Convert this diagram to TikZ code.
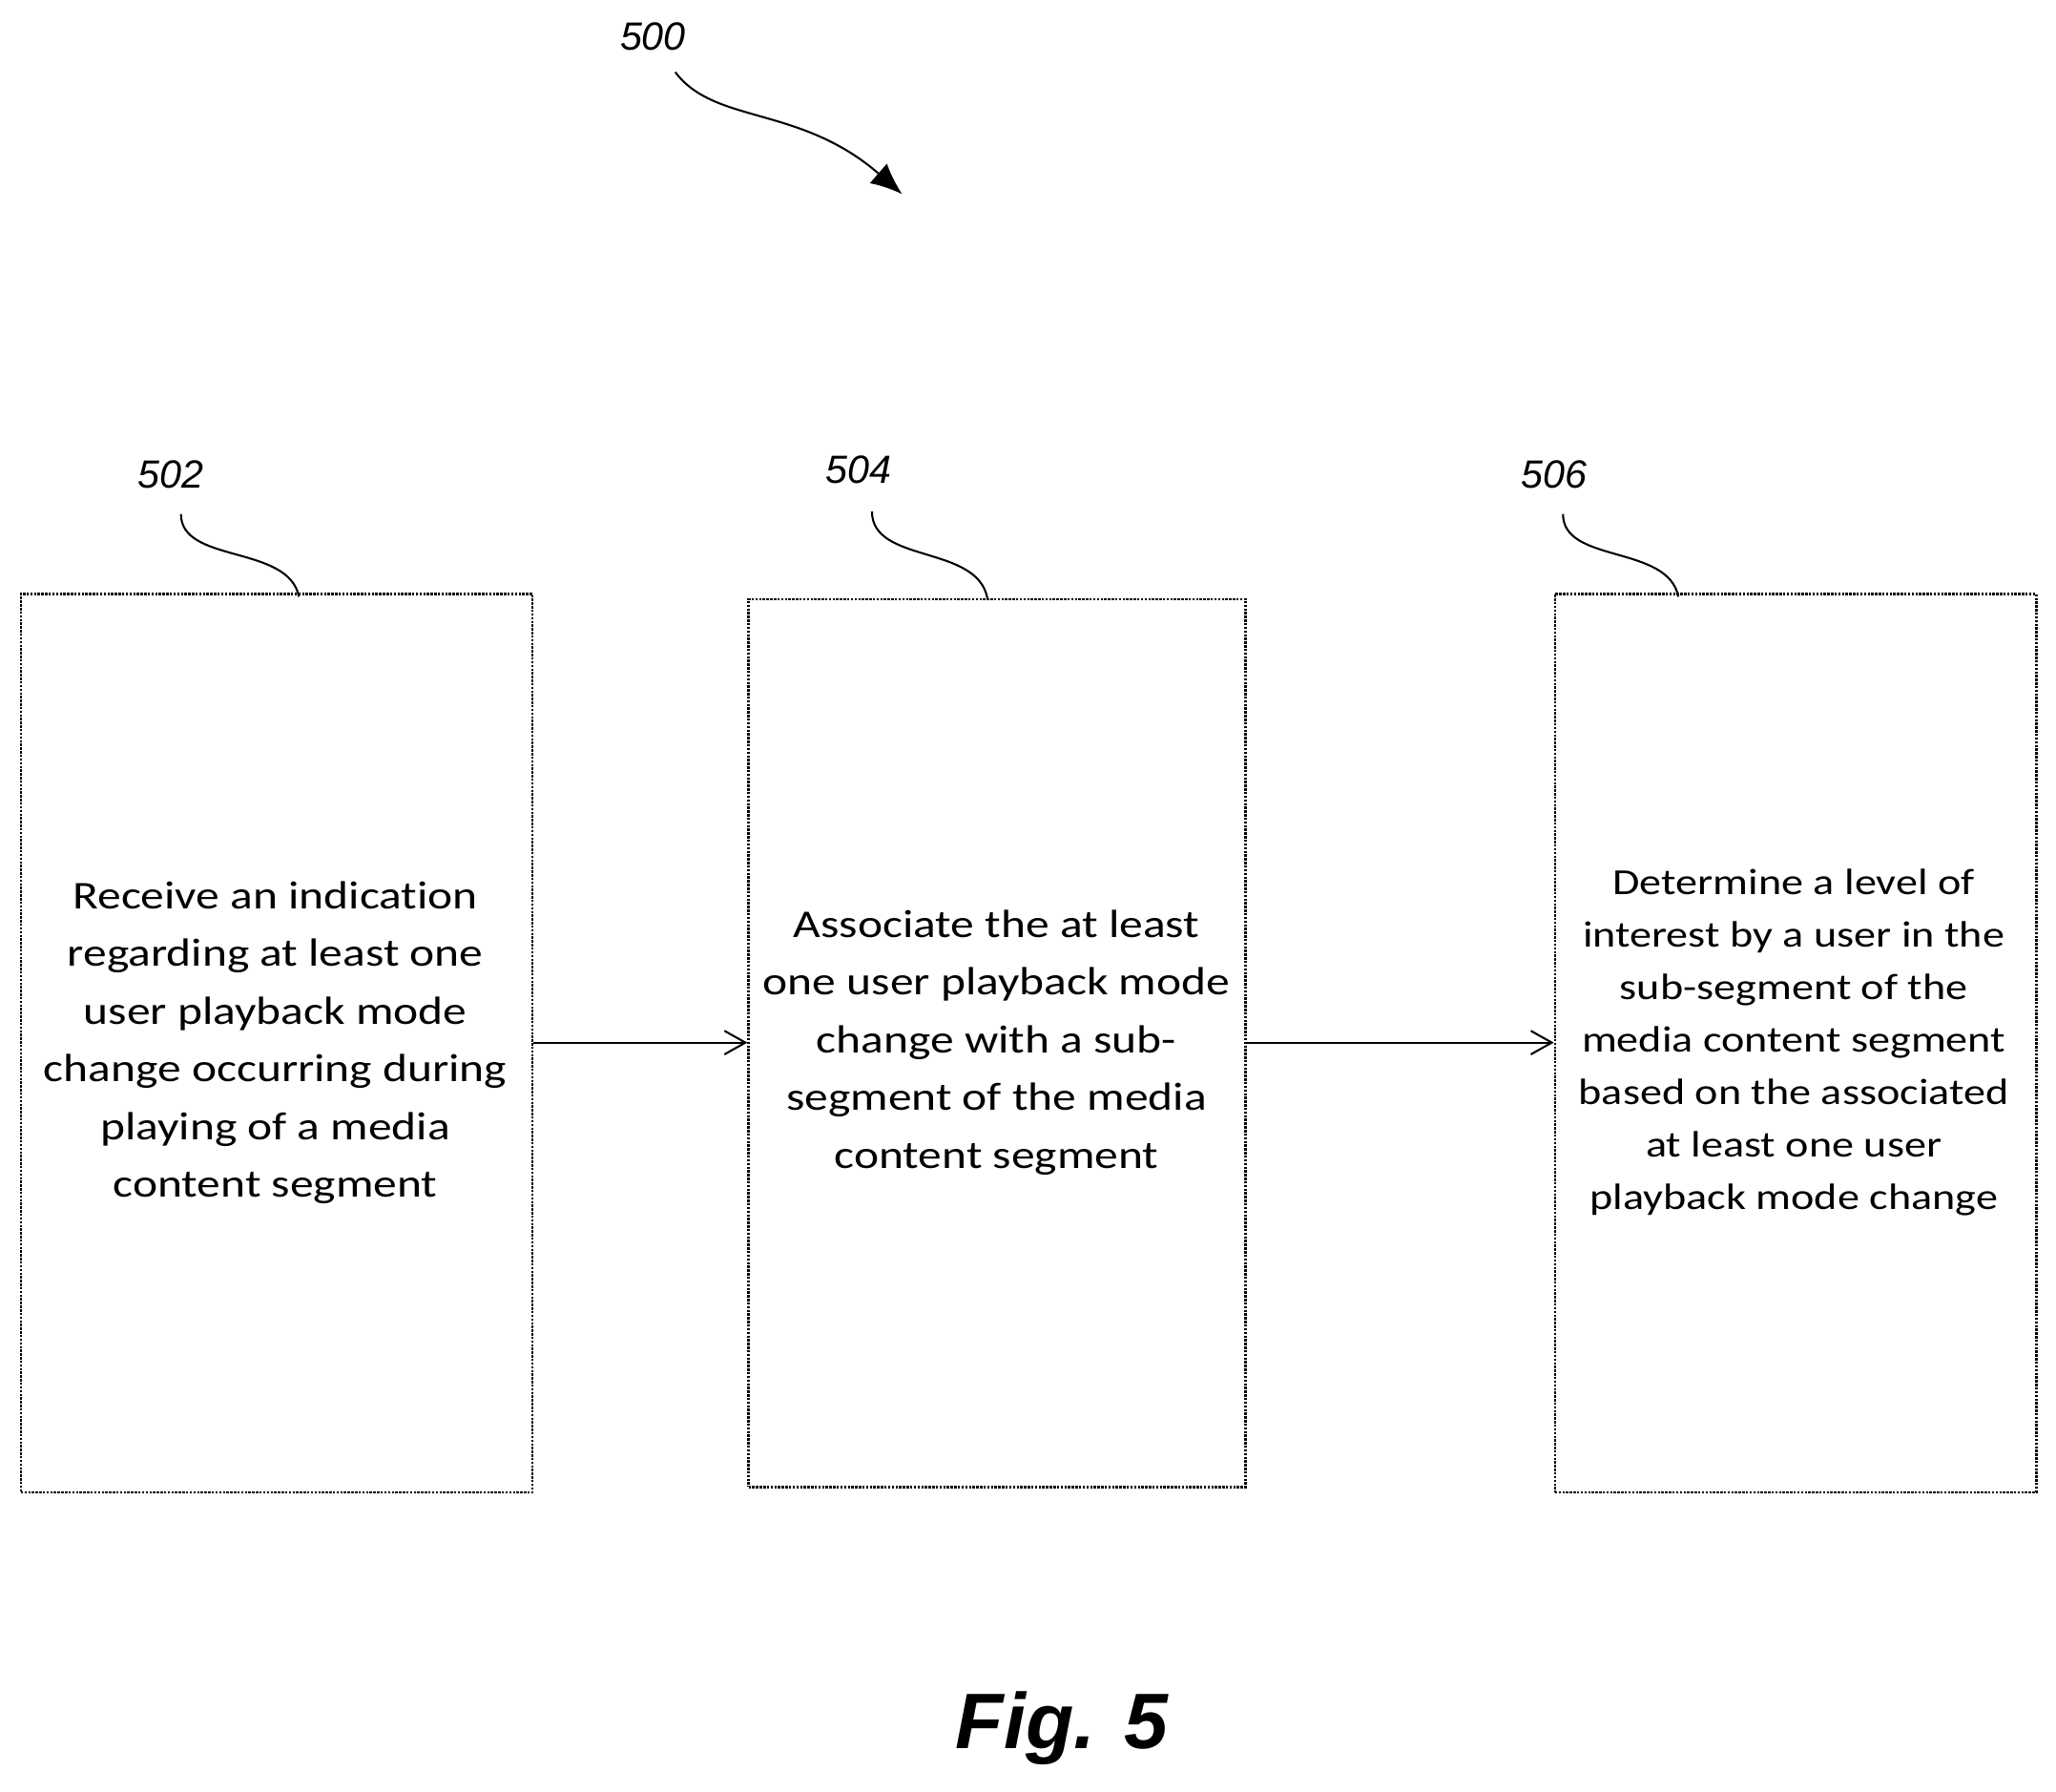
\documentclass[tikz,border=0pt]{standalone}
\usepackage{fontspec}
\setmainfont{Carlito}[FakeStretch=1.2,Ligatures={NoCommon,NoDiscretionary,NoRequired}]
\newfontfamily\lab{Liberation Sans}
\usetikzlibrary{arrows.meta}
\begin{document}
\begin{tikzpicture}[x=1pt,y=-1pt,
  box/.style={draw,line width=1.8pt,densely dotted,anchor=north west,inner sep=0pt},
  txt/.style={font=\fontsize{30}{44}\selectfont,align=center},
  num/.style={font=\lab\itshape\fontsize{30}{34}\selectfont},
  lead/.style={line width=1.5pt},
  arr/.style={line width=1.5pt,-{Straight Barb[length=16pt,width=18pt]}}]
\useasboundingbox (0,0) rectangle (1568,1366);
\fill[white] (0,0) rectangle (1568,1366);
\node[box,minimum width=390pt,minimum height=685pt] (b1) at (15,452) {};
\node[box,minimum width=379pt,minimum height=677pt] (b2) at (570,456) {};
\node[box,minimum width=367pt,minimum height=685pt] (b3) at (1185,452) {};
\node[txt] at (210,795) {Receive an indication\\regarding at least one\\user playback mode\\change occurring during\\playing of a media\\content segment};
\node[txt] at (760,795) {Associate the at least\\one user playback mode\\change with a sub-\\segment of the media\\content segment};
\node[txt,font=\fontsize{28}{40}\selectfont] at (1368,795) {Determine a level of\\interest by a user in the\\sub-segment of the\\media content segment\\based on the associated\\at least one user\\playback mode change};
\draw[arr] (b1.east |- 0,795) -- (b2.west |- 0,795);
\draw[arr] (b2.east |- 0,795) -- (b3.west |- 0,795);
\node[num] (n502) at (130,362) {502};
\node[num] (n504) at (655,358) {504};
\node[num] (n506) at (1185,362) {506};
\node[num] (n500) at (498,28) {500};
\coordinate (c1) at (228,455);
\coordinate (c2) at (753,456);
\coordinate (c3) at (1280,455);
\draw[lead] (138,392) .. controls (138,430) and (220,415) .. (c1);
\draw[lead] (665,390) .. controls (665,430) and (745,415) .. (c2);
\draw[lead] (1192,392) .. controls (1192,430) and (1272,415) .. (c3);
\coordinate (a500) at (688,148);
\draw[line width=1.5pt,-{Latex[length=24pt,width=20pt]}] (515,55) .. controls (545,95) and (610,80) .. (a500);
\node[font=\lab\bfseries\itshape\fontsize{60}{60}\selectfont] (fig) at (810,1318) {Fig. 5};
\end{tikzpicture}
\end{document}
